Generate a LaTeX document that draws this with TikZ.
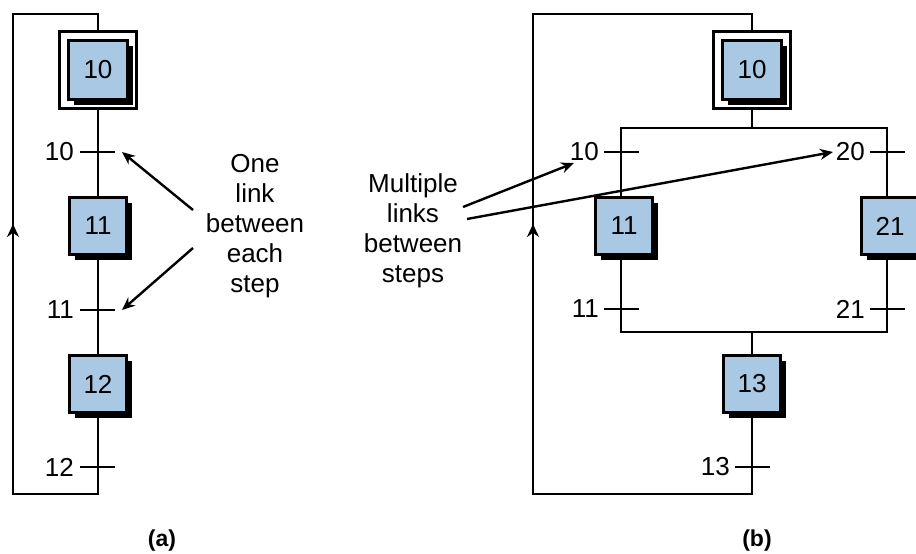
\documentclass[tikz,border=0pt]{standalone}
\usepackage{fontspec}
\setmainfont{Liberation Sans}
\usetikzlibrary{arrows.meta,shadows}
\definecolor{stepblue}{RGB}{168,200,228}
\begin{document}
\begin{tikzpicture}[x=1pt,y=-1pt,
  line/.style={line width=2.6pt},
  stepbox/.style={draw, line width=2.6pt, fill=stepblue, minimum size=57pt, inner sep=0pt,
    font=\fontsize{26}{30}\selectfont,
    drop shadow={shadow xshift=5pt, shadow yshift=-5pt, fill=black, opacity=1}},
  initbox/.style={draw, line width=2.6pt, minimum size=77pt, inner sep=0pt, fill=white},
  tlabel/.style={font=\fontsize{26}{30}\selectfont, anchor=east, inner sep=0pt},
  note/.style={font=\fontsize{26}{30}\selectfont, align=center},
  arr/.style={line width=2.4pt, -{Stealth[length=13pt,width=11pt]}},
  caption/.style={font=\fontsize{23}{26}\selectfont\bfseries}
]
\useasboundingbox (0,0) rectangle (916,554);

% ---------------- panel (a)
\coordinate (atr) at (98,14);
\coordinate (atl) at (13,14);
\coordinate (abl) at (13,494);
\coordinate (abr) at (98,494);
\node[initbox] (a10o) at (98,70) {};
\node[stepbox, minimum size=59pt] (a10) at (98,70) {10};
\node[stepbox] (a11) at (98,226) {11};
\node[stepbox] (a12) at (98,384) {12};
\coordinate (at10) at (98,152);
\coordinate (at11) at (98,310);
\coordinate (at12) at (98,467);

\draw[line] (a10o) -- (a11);
\draw[line] (a11) -- (a12);
\draw[line] (a12.south) -- (abr) -- (abl) -- (atl) -- (atr) -- (a10o.north);
\foreach \t/\l in {at10/10, at11/11, at12/12}{
  \draw[line] ([xshift=-18pt]\t) -- ([xshift=17pt]\t);
  \node[tlabel] at ([xshift=-24pt]\t) {\l};
}
\coordinate (aup1) at (13,262);
\coordinate (aup2) at (13,224);
\draw[line, -{Stealth[length=13pt,width=12pt]}] (aup1) -- (aup2);

\node[note] (anote) at (255,226) {One\\link\\between\\each\\step};
\coordinate (aa1s) at (193,210);
\coordinate (aa1e) at (122,152);
\coordinate (aa2s) at (193,248);
\coordinate (aa2e) at (122,310);
\draw[arr] (aa1s) -- (aa1e);
\draw[arr] (aa2s) -- (aa2e);
\node[caption] (capa) at (162,541) {(a)};

% ---------------- panel (b)
\coordinate (btr) at (752,14);
\coordinate (btl) at (533,14);
\coordinate (bbl) at (533,494);
\coordinate (bbr) at (752,494);
\coordinate (bj) at (752,128);
\coordinate (bjl) at (621,128);
\coordinate (bjr) at (887,128);
\coordinate (bk) at (752,332);
\coordinate (bkl) at (621,332);
\coordinate (bkr) at (887,332);
\node[initbox] (b10o) at (752,70) {};
\node[stepbox, minimum size=59pt] (b10) at (752,70) {10};
\node[stepbox] (b11) at (624,226) {11};
\node[stepbox] (b21) at (890,226) {21};
\node[stepbox] (b13) at (752,384) {13};
\coordinate (bt10) at (621,152);
\coordinate (bt20) at (887,152);
\coordinate (bt11) at (621,309);
\coordinate (bt21) at (887,309);
\coordinate (bt13) at (752,467);

\draw[line] (b10o.south) -- (bj);
\draw[line] (bjl |- b11.north) -- (bjl) -- (bjr) -- (bjr |- b21.north);
\draw[line] (bkl |- b11.south) -- (bkl) -- (bkr) -- (bkr |- b21.south);
\draw[line] (bk) -- (b13.north);
\draw[line] (b13.south) -- (bbr) -- (bbl) -- (btl) -- (btr) -- (b10o.north);
\foreach \t/\l in {bt10/10, bt20/20, bt11/11, bt21/21, bt13/13}{
  \draw[line] ([xshift=-17pt]\t) -- ([xshift=18pt]\t);
  \node[tlabel] at ([xshift=-22pt]\t) {\l};
}
\coordinate (bup1) at (533,262);
\coordinate (bup2) at (533,224);
\draw[line, -{Stealth[length=13pt,width=12pt]}] (bup1) -- (bup2);

\node[note] (bnote) at (413,231) {Multiple\\links\\between\\steps};
\coordinate (bb1s) at (463,207);
\coordinate (bb1e) at (574,163);
\coordinate (bb2s) at (467,219);
\coordinate (bb2e) at (833,152);
\draw[arr] (bb1s) -- (bb1e);
\draw[arr] (bb2s) -- (bb2e);
\node[caption] (capb) at (757,541) {(b)};
\end{tikzpicture}
\end{document}
